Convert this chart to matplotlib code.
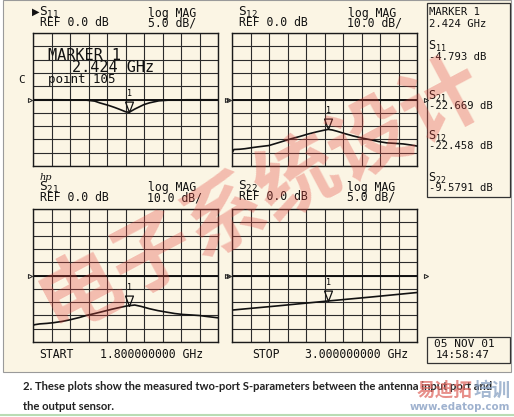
import numpy as np
import matplotlib
matplotlib.use("Agg")
import matplotlib.pyplot as plt
from matplotlib.patches import Rectangle

# sweep 1.8 - 3.0 GHz, marker 1 at 2.424 GHz
f_start, f_stop = 1.8, 3.0
marker_f = 2.424

# S11 (5 dB/div)
s11_f = [1.80, 1.95, 2.08, 2.148, 2.20, 2.232, 2.292, 2.33, 2.364, 2.40, 2.424,
         2.436, 2.46, 2.49, 2.52, 2.556, 2.616, 2.688, 2.80, 2.90, 3.00]
s11_db = [-0.1, -0.1, -0.15, -0.25, -0.6, -1.25, -2.25, -3.0, -3.75, -4.6, -4.79,
          -4.4, -3.6, -2.75, -1.9, -1.25, -0.5, -0.2, -0.1, -0.1, -0.1]

# S12 (10 dB/div)
s12_f = [1.80, 1.806, 1.812, 1.85, 1.884, 1.93, 1.968, 2.04, 2.10, 2.184, 2.24,
         2.292, 2.35, 2.40, 2.424, 2.45, 2.479, 2.53, 2.586, 2.64, 2.695, 2.75,
         2.803, 2.86, 2.91, 2.96, 3.00]
s12_db = [-40.0, -39.0, -37.6, -37.4, -37.0, -36.2, -35.6, -34.6, -32.5, -29.5, -27.8,
          -26.0, -24.3, -23.0, -22.46, -22.9, -23.8, -25.6, -27.4, -28.9, -30.2, -31.6,
          -32.6, -33.0, -33.4, -34.2, -35.0]

# S21 (10 dB/div)
s21_f = [1.80, 1.81, 1.843, 1.89, 1.932, 1.99, 2.04, 2.10, 2.148, 2.20, 2.256,
         2.31, 2.364, 2.40, 2.424, 2.46, 2.50, 2.556, 2.61, 2.664, 2.72, 2.772,
         2.83, 2.88, 2.94, 3.00]
s21_db = [-37.6, -37.0, -36.4, -36.0, -35.5, -34.5, -33.3, -31.6, -30.0, -28.6, -27.0,
          -25.4, -24.0, -23.1, -22.67, -22.2, -23.2, -25.0, -26.4, -27.5, -28.6, -29.3,
          -29.7, -30.1, -31.0, -31.8]

# S22 (5 dB/div)
s22_f = [1.80, 2.10, 2.424, 2.70, 3.00]
s22_db = [-13.0, -11.4, -9.58, -8.1, -6.4]

panels = [
    # name, freqs, values, dB/div, rect in pixels (x0, y0, x1, y1)
    ("11", s11_f, s11_db, 5.0, (33, 33, 218, 166)),
    ("12", s12_f, s12_db, 10.0, (232, 33, 417, 166)),
    ("21", s21_f, s21_db, 10.0, (33, 209, 218, 342)),
    ("22", s22_f, s22_db, 5.0, (232, 209, 417, 342)),
]

W, H = 514, 417
bg = "#fbf5e4"
mono = "DejaVu Sans Mono"
plt.rcParams["mathtext.fontset"] = "dejavusans"


def fx(x):
    return x / W


def fy(y):
    return 1 - y / H


fig = plt.figure(figsize=(W / 100, H / 100), dpi=100)
fig.patch.set_facecolor("white")
fig.patches.append(Rectangle((fx(3), fy(372)), fx(508), 372 / H, transform=fig.transFigure,
                             facecolor=bg, edgecolor="#9a9a9a", lw=0.8, zorder=-5))

axes = {}
for name, fr, db, scale, (x0, y0, x1, y1) in panels:
    ax = fig.add_axes([fx(x0), fy(y1), (x1 - x0) / W, (y1 - y0) / H])
    ax.set_facecolor("none")
    ax.set_xlim(f_start, f_stop)
    ax.set_ylim(-5 * scale, 5 * scale)
    ax.set_xticks(np.linspace(f_start, f_stop, 11))
    ax.set_yticks(np.linspace(-5 * scale, 5 * scale, 11))
    ax.grid(True, color="#2b2b2b", lw=0.8)
    ax.tick_params(length=0, labelbottom=False, labelleft=False)
    for s in ax.spines.values():
        s.set_color("#1a1a1a")
        s.set_linewidth(1.0)
    ax.axhline(0, color="#111111", lw=1.4)
    ax.plot(fr, db, color="#111111", lw=1.2)

    # marker 1
    my = np.interp(marker_f, fr, db)
    tri = [(0, 0), (-0.38, 1), (0.38, 1), (0, 0)]
    ax.plot([marker_f], [my], marker=tri, markersize=15, mfc="none", mec="#111111",
            mew=0.9, ls="none")
    ax.annotate("1", (marker_f, my), xytext=(0, 10), textcoords="offset points",
                ha="center", va="bottom", fontsize=6, family=mono)

    # reference position indicators
    trans = ax.get_yaxis_transform()
    ax.plot([-0.018], [0], marker=">", ms=3, mfc="none", mec="#222", mew=0.7,
            transform=trans, clip_on=False)
    ax.plot([1.05], [0], marker=">", ms=3, mfc="none", mec="#222", mew=0.7,
            transform=trans, clip_on=False)
    axes[name] = ax


def t(x, y, s, size=8.3, **kw):
    kw.setdefault("family", mono)
    kw.setdefault("color", "#111111")
    kw.setdefault("ha", "left")
    fig.text(fx(x), fy(y), s, fontsize=size, va="center", **kw)


def sp(x, y, sub, size=8.3):
    t(x, y, r"$\mathtt{S}_{\mathtt{%s}}$" % sub, size=size + 1)


# channel headers
t(32, 12, "\u25b6", size=7, family="DejaVu Sans")
sp(39, 12, "11")
t(40, 23, "REF 0.0 dB")
t(148, 13, "log MAG")
t(148, 23, "5.0 dB/")

sp(238, 12, "12")
t(239, 23, "REF 0.0 dB")
t(348, 13, "log MAG")
t(347, 23, "10.0 dB/")

t(40, 177, "hp", size=7, style="italic", family="DejaVu Serif")
sp(39, 187, "21")
t(40, 198, "REF 0.0 dB")
t(148, 188, "log MAG")
t(147, 198, "10.0 dB/")

sp(238, 186, "22")
t(239, 197, "REF 0.0 dB")
t(347, 187, "log MAG")
t(347, 197, "5.0 dB/")

# marker readout inside S11
t(48, 55, "MARKER 1", size=11)
t(72, 67, "2.424 GHz", size=11)
t(48, 79, "point 105", size=9)
t(18, 80, "C", size=8)

# sweep limits
t(39, 354, "START")
t(100, 354, "1.800000000 GHz")
t(252, 354, "STOP")
t(305, 354, "3.000000000 GHz")

# marker table box
fig.patches.append(Rectangle((fx(427), fy(197)), fx(83), 194 / H, transform=fig.transFigure,
                             facecolor="none", edgecolor="#333333", lw=0.9))
t(429, 12, "MARKER 1", size=7.6)
t(429, 24, "2.424 GHz", size=7.6)
sp(428, 46, "11", size=7.6)
t(429, 57, "-4.793 dB", size=7.6)
sp(428, 96, "21", size=7.6)
t(429, 106, "-22.669 dB", size=7.6)
sp(428, 136, "12", size=7.6)
t(429, 146, "-22.458 dB", size=7.6)
sp(428, 178, "22", size=7.6)
t(429, 188, "-9.5791 dB", size=7.6)

# date box
fig.patches.append(Rectangle((fx(427), fy(363)), fx(83), 26 / H, transform=fig.transFigure,
                             facecolor="none", edgecolor="#333333", lw=0.9))
t(434, 344, "05 NOV 01", size=8)
t(436, 355, "14:58:47", size=8)

# caption
cap = dict(family="Lato", weight="bold", size=8.15, color="#222222")
t(23, 387, "2. These plots show the measured two-port S-parameters between the antenna input port and", **cap)
t(23, 406, "the output sensor.", **cap)
fig.lines.append(plt.Line2D([0, 1], [fy(415), fy(415)], transform=fig.transFigure,
                            color="#b9dcb4", lw=1.5))

# watermarks
fig.text(fx(262), fy(196), "电子系统设计", fontsize=59, rotation=28, ha="center", va="center",
         family="Noto Sans CJK SC", weight="bold", color="#e4473f", alpha=0.32)
t(417, 390, "易迪拓", size=13.4, family="Noto Sans CJK SC", weight="bold",
  color="#e06a63", alpha=0.75)
t(511, 390, "培训", size=13.4, family="Noto Sans CJK SC", weight="bold",
  color="#8fa6c6", alpha=0.8, ha="right")
t(510, 407, "www.edatop.com", size=7.4, family="DejaVu Sans", weight="bold",
  color="#9fb2cf", ha="right")

fig.savefig("out.png", dpi=100)
